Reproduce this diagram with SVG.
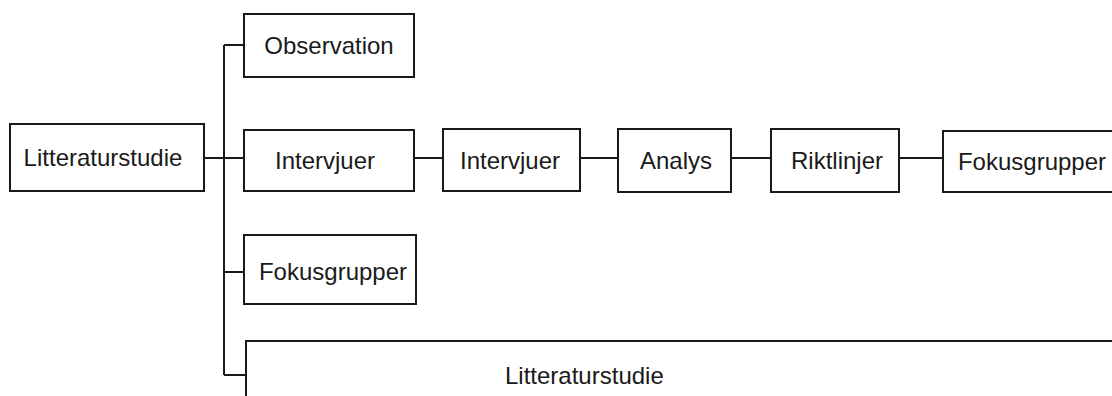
<svg xmlns="http://www.w3.org/2000/svg" width="1112" height="396" viewBox="0 0 1112 396">
<style>
.box{fill:#fff;stroke:#1a1a1a;stroke-width:2}
.lbl{font-family:"Liberation Sans",Arial,sans-serif;font-size:24px;fill:#1a1a1a;text-anchor:middle}
.con{fill:none;stroke:#1a1a1a;stroke-width:2}
</style>
<rect width="1112" height="396" fill="#fff"/>
<g id="connectors">
<path class="con" d="M204 158H244M224 45V375M224 45H244M224 272H244M224 375H246M414 158H443M580 158H618M731 158H771M899 158H943"/>
</g>
<g id="n-litt"><rect class="box" x="10" y="124" width="194" height="67"/><text class="lbl" x="103" y="166">Litteraturstudie</text></g>
<g id="n-obs"><rect class="box" x="244" y="14" width="170" height="63"/><text class="lbl" x="329" y="54">Observation</text></g>
<g id="n-int1"><rect class="box" x="244" y="130" width="170" height="61"/><text class="lbl" x="325" y="169">Intervjuer</text></g>
<g id="n-int2"><rect class="box" x="443" y="129" width="137" height="62"/><text class="lbl" x="510" y="169">Intervjuer</text></g>
<g id="n-analys"><rect class="box" x="618" y="129" width="113" height="63"/><text class="lbl" x="676" y="169">Analys</text></g>
<g id="n-rikt"><rect class="box" x="771" y="129" width="128" height="63"/><text class="lbl" x="837" y="169">Riktlinjer</text></g>
<g id="n-fok2"><rect class="box" x="943" y="131" width="180" height="61"/><text class="lbl" x="1032" y="170">Fokusgrupper</text></g>
<g id="n-fok1"><rect class="box" x="244" y="235" width="172" height="69"/><text class="lbl" x="333" y="280">Fokusgrupper</text></g>
<g id="n-litt2"><rect class="box" x="246" y="341" width="880" height="70"/><text class="lbl" x="505" y="384" style="text-anchor:start">Litteraturstudie</text></g>
</svg>
